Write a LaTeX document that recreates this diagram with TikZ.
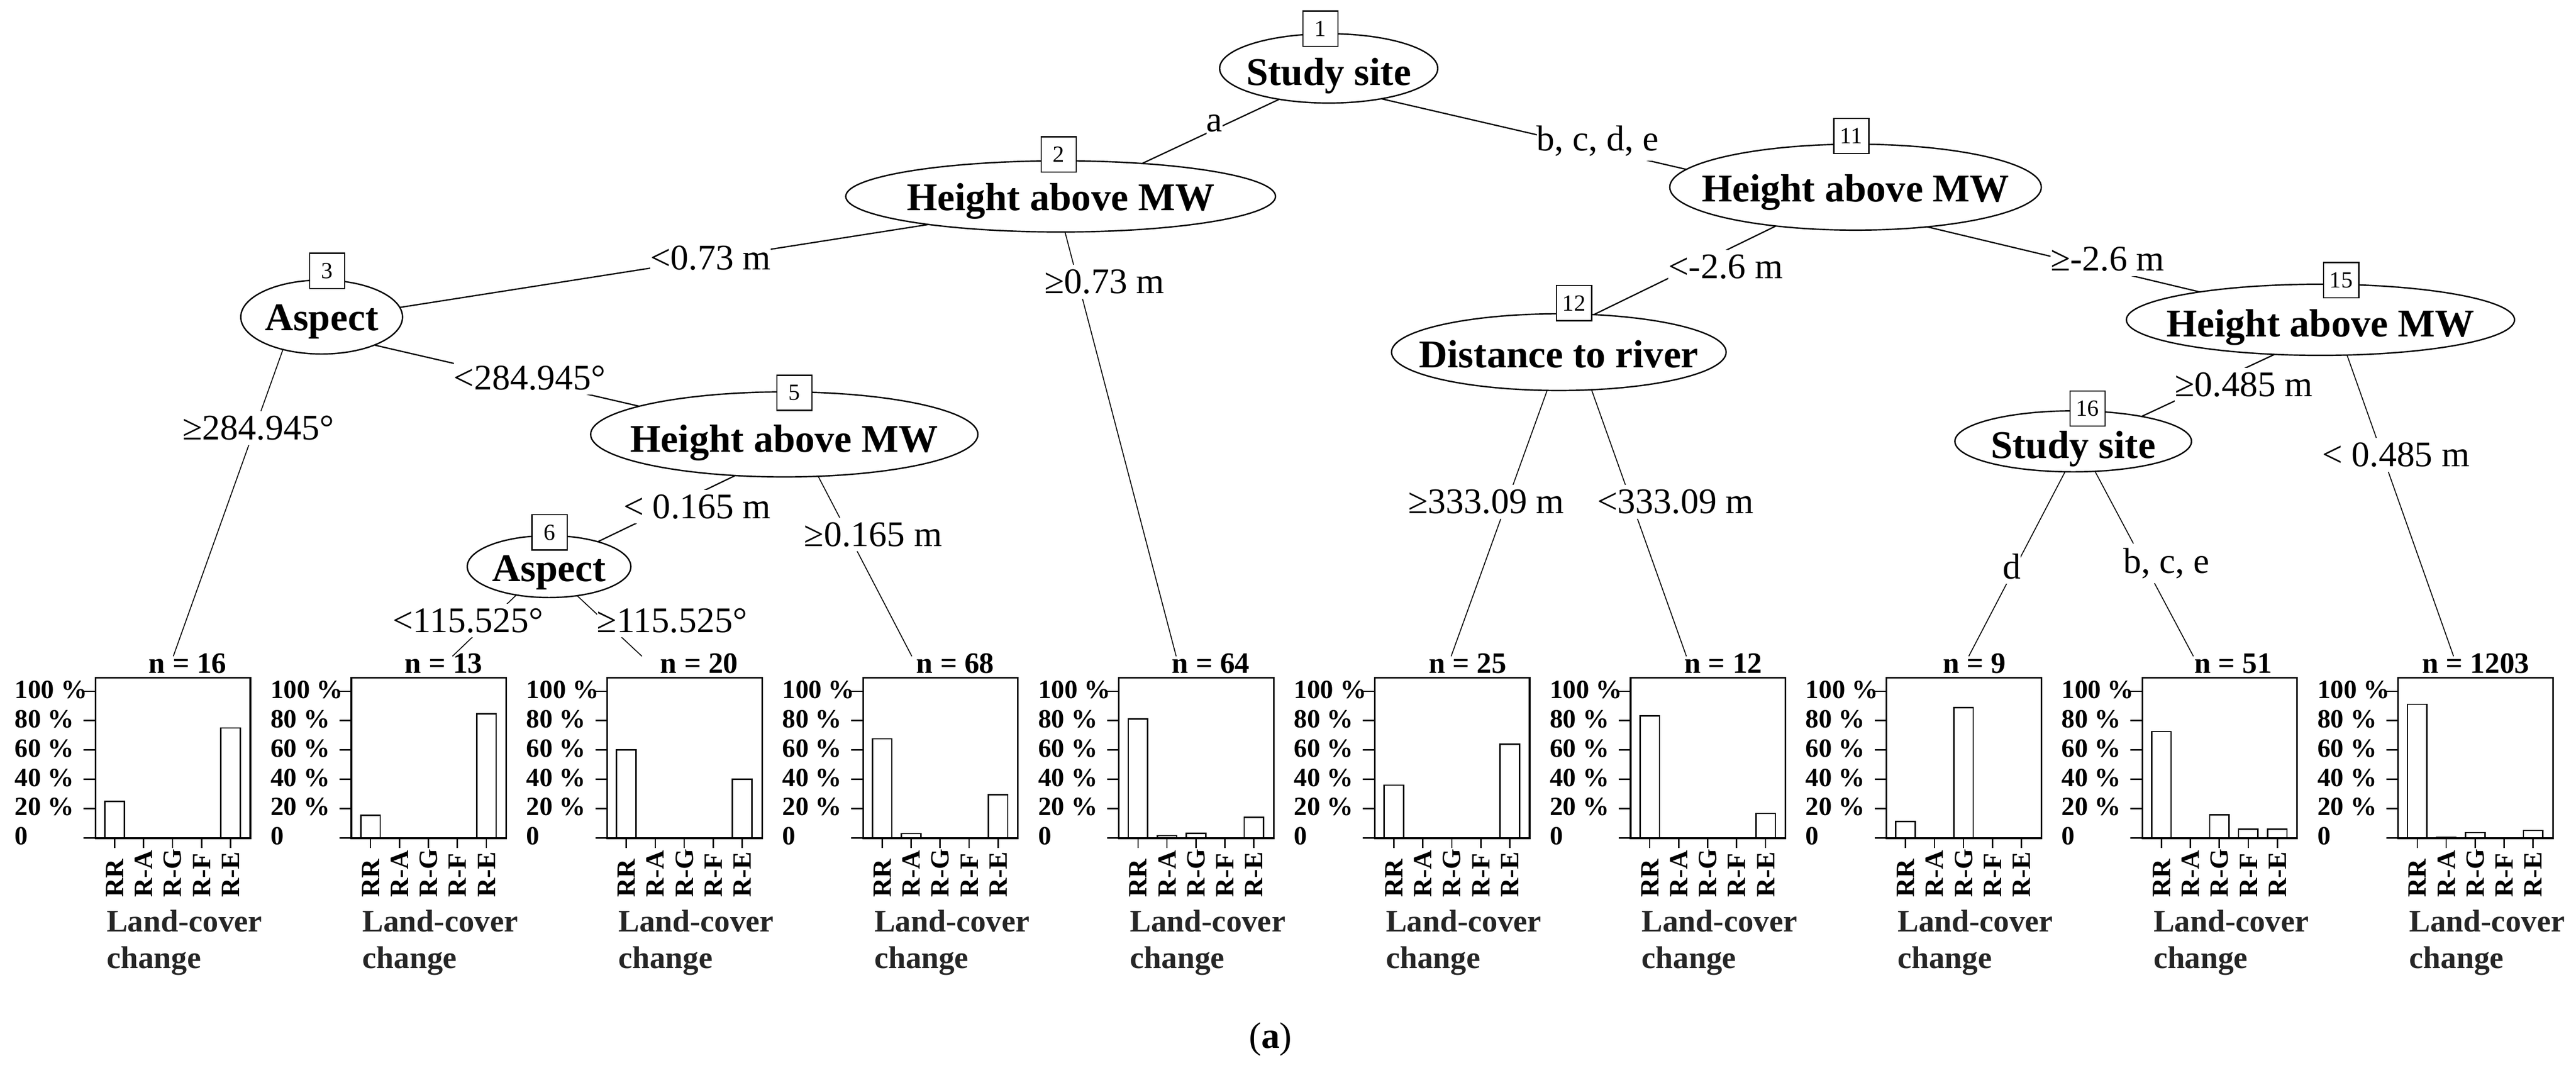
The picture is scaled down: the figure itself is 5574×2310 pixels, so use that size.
\documentclass[tikz,border=0pt]{standalone}
\usepackage{fontspec}
\setmainfont{Liberation Serif}
\usetikzlibrary{shapes.geometric}
\pgfdeclarelayer{bg}
\pgfsetlayers{bg,main}
\newcommand{\fsz}[1]{\fontsize{#1}{#1}\selectfont}
\begin{document}
\begin{tikzpicture}[x=0.1pt,y=-0.1pt,
  ell/.style={ellipse, draw, line width=0.3pt, fill=white, inner sep=0pt, outer sep=0pt},
  ntext/.style={font=\fsz{8.5}\bfseries, inner sep=0pt, anchor=base},
  idbox/.style={draw, line width=0.25pt, fill=white, minimum width=7.6pt, minimum height=7.6pt, inner sep=0pt, font=\fsz{5}},
  elab/.style={font=\fsz{7.8}, fill=white, inner xsep=0pt, inner ysep=1pt, anchor=base west},
  conn/.style={line width=0.28pt},
  leafconn/.style={line width=0.2pt},
  frm/.style={line width=0.35pt},
  tck/.style={line width=0.3pt},
  barbox/.style={draw, fill=white, line width=0.3pt},
  nlab/.style={font=\fsz{6.4}\bfseries, inner sep=0pt, anchor=base},
  ylab/.style={font=\fsz{5.7}\bfseries, inner sep=0pt, anchor=base west},
  xlab/.style={font=\fsz{5.7}\bfseries, inner sep=0pt, anchor=base west, rotate=90},
  lcl/.style={font=\fsz{6.8}\bfseries, text=black!85, inner sep=0pt, anchor=base west}
]
\useasboundingbox (0,0) rectangle (5574,2310);
\begin{pgfonlayer}{bg}
\fill[white] (0,0) rectangle (5574,2310);
\end{pgfonlayer}

% inner nodes
\node[ell, minimum width=47.2pt, minimum height=15pt]   (n1)  at (2875,148)  {};
\node[ell, minimum width=93pt,   minimum height=15.4pt] (n2)  at (2295,425)  {};
\node[ell, minimum width=35pt,   minimum height=16pt]   (n3)  at (696,686)   {};
\node[ell, minimum width=83.8pt, minimum height=18.4pt] (n5)  at (1697,940)  {};
\node[ell, minimum width=35.4pt, minimum height=13.4pt] (n6)  at (1188,1226) {};
\node[ell, minimum width=80.4pt, minimum height=18.6pt] (n11) at (4015,405)  {};
\node[ell, minimum width=72.4pt, minimum height=16.6pt] (n12) at (3373,762)  {};
\node[ell, minimum width=84pt,   minimum height=15.4pt] (n15) at (5021,692)  {};
\node[ell, minimum width=51.2pt, minimum height=13.2pt] (n16) at (4486,955)  {};

\node[ntext] (t1n)  at (2875,184)  {Study site};
\node[ntext] (t2n)  at (2295,455)  {Height above MW};
\node[ntext] (t3n)  at (696,715)   {Aspect};
\node[ntext] (t5n)  at (1697,978)  {Height above MW};
\node[ntext] (t6n)  at (1188,1258) {Aspect};
\node[ntext] (t11n) at (4015,437)  {Height above MW};
\node[ntext] (t12n) at (3373,795)  {Distance to river};
\node[ntext] (t15n) at (5021,728)  {Height above MW};
\node[ntext] (t16n) at (4486,992)  {Study site};

\node[idbox] (b1)  at (2857,62)   {1};
\node[idbox] (b2)  at (2291,334)  {2};
\node[idbox] (b3)  at (708,586)   {3};
\node[idbox] (b5)  at (1719,850)  {5};
\node[idbox] (b6)  at (1189,1152) {6};
\node[idbox] (b11) at (4006,294)  {11};
\node[idbox] (b12) at (3406,656)  {12};
\node[idbox] (b15) at (5066,606)  {15};
\node[idbox] (b16) at (4517,884)  {16};

% terminal panels
\foreach \k/\nn/\nx/\tx/\va/\vb/\vc/\vd/\ve in {
  1/16/406/375/25/0/0/0/75,
  2/13/960/979/15.38/0/0/0/84.62,
  3/20/1513/1389/60/0/0/0/40,
  4/68/2067/1973/67.65/2.94/0/0/29.41,
  5/64/2620/2545/81.25/1.56/3.13/0/14.06,
  6/25/3176/3140/36/0/0/0/64,
  7/12/3729/3649/83.33/0/0/0/16.67,
  8/9/4272/4260/11.11/0/88.89/0/0,
  9/51/4832/4746/72.55/0/15.69/5.88/5.88,
  10/1203/5357/5309/91.2/0.17/3.6/0/5.0}{
  \pgfmathsetmacro\PL{205+553.6*(\k-1)}
  \coordinate (t\k) at (\tx,1420);
  \node[draw, frm, minimum width=33.5pt, minimum height=34.8pt, inner sep=0pt, anchor=north west] (p\k) at (\PL,1465) {};
  \draw[frm] ({\PL-24},1813) -- ({\PL+335},1813);
  \foreach \q in {20,40,60,80,100}{
    \draw[tck] ({\PL-24},{1813-3.17*\q}) -- (\PL,{1813-3.17*\q});
  }
  \foreach \q/\qt in {0/0,20/20 \%,40/40 \%,60/60 \%,80/80 \%,100/100 \%}{
    \node[ylab] (y\k-\q) at ({\PL-175},{1828-3.17*\q}) {\qt};
  }
  \foreach \j/\v/\ct in {0/\va/RR,1/\vb/R-A,2/\vc/R-G,3/\vd/R-F,4/\ve/R-E}{
    \pgfmathsetmacro\cx{\PL+43+62.7*\j}
    \draw[barbox] ({\cx-21},1813) rectangle ({\cx+21},{1813-3.17*\v});
    \draw[tck] (\cx,1813) -- (\cx,1835);
    \node[xlab] (x\k-\j) at ({\cx+19},1943) {\ct};
  }
  \node[nlab] (nl\k) at (\nx,1457) {n = \nn};
  \node[lcl] (lc\k) at ({\PL+24},2016) {Land-cover};
  \node[lcl] (ch\k) at ({\PL+24},2095) {change};
}

% connectors
\begin{pgfonlayer}{bg}
\draw[conn] (n1.212) -- (n2.22);
\draw[conn] (n1.330) -- (n11.174);
\draw[conn] (n2.192) -- (n3.7);
\draw[leafconn] (n2.277) -- (t5);
\draw[conn] (n3.332) -- (n5.169);
\draw[leafconn] (n3.220) -- (t1);
\draw[conn] (n5.220) -- (n6.27);
\draw[leafconn] (n5.309) -- (t4);
\draw[leafconn] (n6.221) -- (t2);
\draw[leafconn] (n6.314) -- (t3);
\draw[conn] (n11.206) -- (n12.47);
\draw[conn] (n11.331) -- (n15.167);
\draw[leafconn] (n12.253) -- (t6);
\draw[leafconn] (n12.311) -- (t7);
\draw[conn] (n15.217) -- (n16.20);
\draw[leafconn] (n15.307) -- (t10);
\draw[leafconn] (n16.255) -- (t8);
\draw[leafconn] (n16.306) -- (t9);
\end{pgfonlayer}

% edge labels
\node[elab, anchor=base] (la)  at (2628,285)  {a};
\node[elab] (lb)  at (3323,326)  {b, c, d, e};
\node[elab] (lc)  at (1405,584)  {<0.73 m};
\node[elab] (ld)  at (2258,635)  {≥0.73 m};
\node[elab] (le)  at (980,843)   {<284.945°};
\node[elab] (lf)  at (393,952)   {≥284.945°};
\node[elab] (lg)  at (1347,1122) {< 0.165 m};
\node[elab] (lh)  at (1738,1182) {≥0.165 m};
\node[elab] (li)  at (848,1368)  {<115.525°};
\node[elab] (lj)  at (1290,1368) {≥115.525°};
\node[elab] (lk)  at (3608,602)  {<-2.6 m};
\node[elab] (ll)  at (4435,586)  {≥-2.6 m};
\node[elab] (lm)  at (4704,858)  {≥0.485 m};
\node[elab] (ln)  at (5023,1010) {< 0.485 m};
\node[elab] (lo)  at (3045,1111) {≥333.09 m};
\node[elab] (lp)  at (3454,1111) {<333.09 m};
\node[elab, anchor=base] (lq) at (4353,1252) {d};
\node[elab] (lr)  at (4593,1240) {b, c, e};

\node[font=\fsz{8}, inner sep=0pt, anchor=base] (cap) at (2749,2268) {(\textbf{a})};
\end{tikzpicture}
\end{document}
